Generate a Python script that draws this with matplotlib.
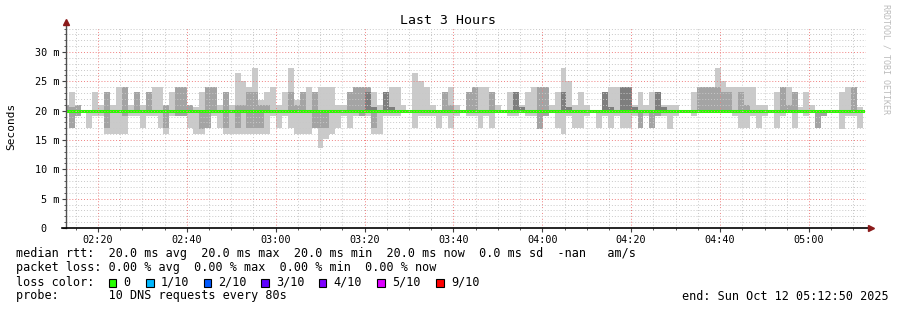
import numpy as np
import pandas as pd
import matplotlib
matplotlib.use('Agg')
import matplotlib.pyplot as plt
import matplotlib.dates as mdates
from matplotlib.patches import Rectangle
from matplotlib.ticker import MultipleLocator, FuncFormatter

plt.rcParams['font.family'] = ['DejaVu Sans Mono']

# 80 s steps, 10 pings each. sorted pings: p1/p2/p3 below median, p8/p9/p10 above
col_start = pd.date_range('2025-10-12 02:12:06', periods=135, freq='80s')
median_ms = [20.0] * 135

p1 = [20, 17, 19.1, 20, 17, 19.1, 19.1, 16.1, 16.1, 16.1, 16.1, 19.1, 19.1, 17, 19.1, 19.1, 17, 16.1, 19.1, 19.1,
      19.1, 17, 16.1, 16.1, 17, 19.1, 17, 16.1, 16.1, 16.1, 16.1, 16.1, 16.1, 16.1, 16.1, 19.1, 17, 19.1, 17, 16.1,
      16.1, 16.1, 17, 13.7, 15.2, 16.1, 17, 19.1, 17, 19.1, 19.1, 19.1, 16.1, 16.1, 19.1, 19.1, 19.1, 20, 20, 17,
      19.1, 19.1, 19.1, 17, 19.1, 17, 19.1, 20, 19.1, 19.1, 17, 19.1, 17, 20, 20, 19.1, 19.1, 20, 19.1, 19.1,
      16.8, 19.1, 20, 17, 16.1, 19.1, 17, 17, 19.1, 20, 17, 19.1, 17, 19.1, 17, 17, 19.1, 17, 19.1, 17,
      19.1, 19.1, 16.8, 19.1, 20, 20, 19.1, 20, 20, 20, 20, 20, 20, 19.1, 17, 17, 19.1, 17, 19.1, 20,
      17, 19.1, 20, 17, 20, 19.1, 20, 17, 19.1, 20, 20, 16.8, 19.1, 19.1, 17]
p2 = [20, 17, 19.1, 20, 20, 20, 20, 17, 20, 20, 19.1, 20, 20, 20, 20, 20, 20, 17, 20, 19.1,
      19.1, 20, 20, 16.8, 17, 20, 20, 17, 20, 17, 20, 17, 17, 17, 20, 20, 20, 20, 20, 20,
      20, 20, 17, 17, 17, 20, 20, 20, 20, 20, 19.1, 20, 17, 20, 20, 20, 20, 20, 20, 20,
      20, 20, 20, 20, 20, 20, 20, 20, 20, 20, 20, 20, 20, 20, 20, 20, 20, 20, 20, 20,
      16.8, 19.1, 20, 20, 20, 20, 20, 20, 20, 20, 20, 20, 20, 20, 20, 20, 20, 17, 20, 17,
      19.1, 20, 20, 20, 20, 20, 20, 20, 20, 20, 20, 20, 20, 20, 20, 20, 20, 20, 20, 20,
      20, 20, 20, 20, 20, 20, 20, 17, 19.1, 20, 20, 20, 20, 20, 20]
p3 = [20.0] * 135
p8 = [20, 20, 20, 20, 20, 20, 20, 20, 20, 20, 20, 20, 20, 20, 20, 20, 20, 20, 20, 20,
      20, 20, 20, 20, 20, 20, 20, 20, 20, 20, 20, 20, 20, 20, 20, 20, 20, 20, 20, 20,
      20, 20, 20, 20, 20, 20, 20, 20, 20, 20, 20, 23.2, 20.7, 20, 23.2, 20.7, 20, 20, 20, 20,
      20, 20, 20, 20, 20, 20, 20, 20, 20, 20, 20, 20, 20, 20, 20, 20, 23.2, 20.7, 20, 20,
      20, 20, 20, 20, 23.2, 20.7, 20, 20, 20, 20, 20, 23.2, 20.7, 20, 24.1, 24.1, 20.7, 20, 20, 20,
      23.2, 20.7, 20, 20, 20, 20, 20, 20, 20, 20, 20, 20, 20, 20, 20, 20, 20, 20, 20, 20,
      20, 20, 20, 20, 20, 20, 20, 20, 20, 20, 20, 20, 20, 20, 20]
p9 = [21, 20.7, 21, 20, 20, 20, 20, 23.2, 20, 20, 24.1, 20, 23.2, 20, 23.2, 20, 20, 21, 20, 24.1,
      24.1, 21, 20, 20, 24.1, 24.1, 20, 23.2, 20, 21, 21, 23.2, 23.2, 21, 21, 20, 20, 20, 23.2, 21,
      23.2, 20, 23.2, 20, 20, 20, 20, 20, 23.2, 24.1, 24.1, 24.1, 20.7, 20, 23.2, 20.7, 20, 20, 20, 20,
      20, 20, 20, 20, 23.2, 21, 20, 20, 23.2, 24.1, 20, 20, 23.2, 20, 20, 20, 23.2, 20.7, 20, 20,
      24.1, 24.1, 20, 20, 23.2, 20.7, 20, 20, 20, 20, 20, 23.2, 20.7, 20, 24.1, 24.1, 20.7, 20, 20, 20,
      23.2, 20.7, 20, 20, 20, 20, 20, 24.1, 24.1, 24.1, 24.1, 23.2, 23.2, 20, 23.2, 21, 20, 20, 20, 20,
      20, 24.1, 21, 23.2, 20, 20, 20, 20, 20, 20, 20, 20, 20, 24.1, 20]
p10 = [21, 23.2, 21, 20, 20, 23.2, 21, 23.2, 21, 24.1, 24.1, 21, 23.2, 21, 23.2, 24.1, 24.1, 21, 23.2, 24.1,
       24.1, 21, 20.7, 23.2, 24.1, 24.1, 21, 23.2, 21, 26.4, 25, 24.1, 27.3, 21.8, 23.2, 24.1, 21, 23.2, 27.3, 21.8,
       23.2, 24.1, 23.2, 24.1, 24.1, 24.1, 21, 21, 23.2, 24.1, 24.1, 24.1, 23.2, 21, 23.2, 24.1, 24.1, 21, 20, 26.4,
       25, 24.1, 21, 20, 23.2, 24.1, 21, 20, 23.2, 24.1, 24.1, 24.1, 23.2, 21, 20, 23.2, 23.2, 21, 23.2, 24.1,
       24.1, 24.1, 21, 23.2, 27.3, 25, 21, 23.2, 21, 20, 20, 23.2, 24.1, 24.1, 24.1, 24.1, 21, 23.2, 21, 23.2,
       23.2, 21, 21, 21, 20, 20, 23.2, 24.1, 24.1, 24.1, 27.3, 25, 24.1, 24.1, 24.1, 24.1, 24.1, 21, 21, 20,
       23.2, 24.1, 24.1, 23.2, 20.7, 23.2, 21, 20, 20, 20, 20, 23.2, 24.1, 24.1, 20.7]

loss_colors = ['#26ff00', '#00b8ff', '#0059ff', '#5e00ff', '#7e00ff', '#dd00ff', '#ff0000']
loss_labels = ['0', '1/10', '2/10', '3/10', '4/10', '5/10', '9/10']

t_start = pd.Timestamp('2025-10-12 02:12:50')
t_end = pd.Timestamp('2025-10-12 05:12:50')

fig = plt.figure(figsize=(8.97, 3.10), dpi=100)
fig.patch.set_facecolor('white')
ax = fig.add_axes([66 / 897, 82 / 310, 800 / 897, 200 / 310])

x = mdates.date2num(col_start.to_pydatetime())
step = 80 / 86400

# smoke: pairs (p1,p10), (p2,p9), (p3,p8), inner pairs darker and on top
pairs = [(p1, p10, '#cacaca'), (p2, p9, '#a4a4a4'), (p3, p8, '#7e7e7e')]
for lo, hi, col in pairs:
    lo = np.array(lo, dtype=float)
    hi = np.array(hi, dtype=float)
    ax.bar(x, hi - lo, bottom=lo, width=step, align='edge', color=col, linewidth=0, zorder=1)

edges = np.append(x, x[-1] + step)
ax.step(edges, median_ms + [median_ms[-1]], where='post', color='#26ff00', lw=2.2, zorder=2)

ax.set_xlim(mdates.date2num(t_start), mdates.date2num(t_end))
ax.set_ylim(0, 34.09)

ax.xaxis.set_major_locator(mdates.MinuteLocator(byminute=[0, 20, 40]))
ax.xaxis.set_minor_locator(mdates.MinuteLocator(byminute=range(0, 60, 5)))
ax.xaxis.set_major_formatter(mdates.DateFormatter('%H:%M'))
ax.yaxis.set_major_locator(MultipleLocator(5))
ax.yaxis.set_minor_locator(MultipleLocator(1))
ax.yaxis.set_major_formatter(FuncFormatter(lambda v, p: '0  ' if v == 0 else f'{v:g} m'))

ax.set_axisbelow(False)
ax.grid(which='minor', color='#c8c8c8', linestyle=(0, (1, 2)), lw=0.7)
ax.grid(which='major', color='#f08080', linestyle=(0, (1, 2)), lw=0.7)

ax.tick_params(which='major', labelsize=7.3, length=3, width=0.8, color='#404040', pad=2)
ax.tick_params(which='minor', length=1.5, width=0.6, color='#404040')
for s in ['top', 'right', 'left', 'bottom']:
    ax.spines[s].set_visible(False)

# axis lines with arrows
ax.plot([0, 0], [0, 1.03], transform=ax.transAxes, color='#505050', lw=1.0, clip_on=False, zorder=4)
ax.plot([-0.005, 1.005], [0, 0], transform=ax.transAxes, color='black', lw=1.2, clip_on=False, zorder=4)
ax.plot(0, 1.03, marker='^', ms=4, color='#8b1a1a', transform=ax.transAxes, clip_on=False, zorder=5)
ax.plot(1.006, 0, marker='>', ms=4, color='#8b1a1a', transform=ax.transAxes, clip_on=False, zorder=5)

fig.text(448 / 897, 1 - 20 / 310, 'Last 3 Hours', ha='center', va='center', fontsize=9.5)
fig.text(11 / 897, 1 - 126 / 310, 'Seconds', rotation=90, ha='center', va='center', fontsize=8)
fig.text(886 / 897, 1 - 4 / 310, 'RRDTOOL / TOBI OETIKER', rotation=270, ha='center', va='top',
         fontsize=6, color='#bbbbbb')

fs = 8.5
lx = 16 / 897
fig.text(lx, 1 - 254 / 310,
         'median rtt:  20.0 ms avg  20.0 ms max  20.0 ms min  20.0 ms now  0.0 ms sd  -nan   am/s',
         va='center', fontsize=fs)
fig.text(lx, 1 - 268 / 310, 'packet loss: 0.00 % avg  0.00 % max  0.00 % min  0.00 % now',
         va='center', fontsize=fs)
fig.text(lx, 1 - 282 / 310, 'loss color:', va='center', fontsize=fs)
box_x = [108.5, 146, 203.5, 261, 318.5, 377, 436]
for bx, c, lab in zip(box_x, loss_colors, loss_labels):
    fig.patches.append(Rectangle((bx / 897, 1 - 286.5 / 310), 7.5 / 897, 8 / 310, transform=fig.transFigure,
                                 facecolor=c, edgecolor='black', lw=0.8, figure=fig))
    fig.text((bx + 15) / 897, 1 - 282 / 310, lab, va='center', fontsize=fs)
fig.text(lx, 1 - 296 / 310, 'probe:       10 DNS requests every 80s', va='center', fontsize=fs)
fig.text(682 / 897, 1 - 296 / 310, 'end: Sun Oct 12 05:12:50 2025', va='center', fontsize=fs)

fig.savefig('out.png', dpi=100)
